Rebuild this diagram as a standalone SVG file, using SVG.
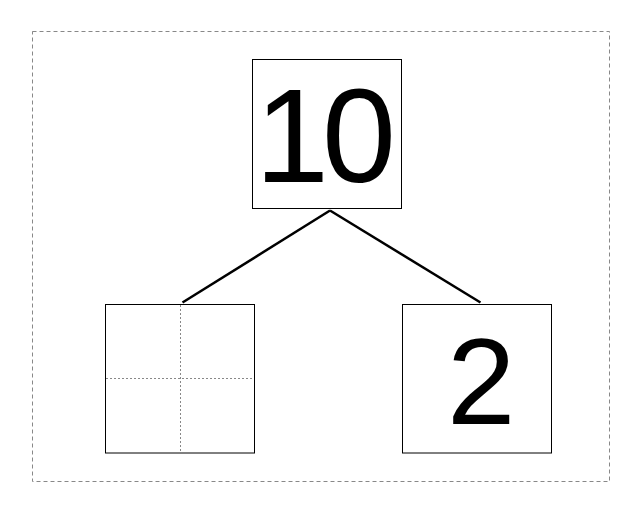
<svg xmlns="http://www.w3.org/2000/svg" width="642" height="513" viewBox="0 0 642 513">
<style>
.frame{fill:none;stroke:#888;stroke-width:1;stroke-dasharray:4,3}
.box{fill:#fff;stroke:#000;stroke-width:1}
.guide{fill:none;stroke:#888;stroke-width:1;stroke-dasharray:2,2}
.edge{fill:none;stroke:#000;stroke-width:2.5}
.num{font-family:"Liberation Sans",Arial,sans-serif;fill:#000}
</style>
<rect width="642" height="513" fill="#fff"/>
<rect class="frame" x="32.5" y="31.5" width="577" height="450"/>
<g id="connectors">
<line class="edge" x1="330" y1="210.5" x2="182.5" y2="302.5"/>
<line class="edge" x1="330" y1="210.5" x2="480.5" y2="302.5"/>
</g>
<g id="node-10">
<rect class="box" x="252.5" y="59.5" width="149" height="149"/>
<text class="num" x="255" y="182" font-size="133" letter-spacing="-7">10</text>
</g>
<g id="node-empty">
<rect class="box" x="105.5" y="304.5" width="149" height="148.5"/>
<line class="guide" x1="180.5" y1="305" x2="180.5" y2="452.5"/>
<line class="guide" x1="106" y1="378.5" x2="254" y2="378.5"/>
</g>
<g id="node-2">
<rect class="box" x="402.5" y="304.5" width="149" height="148.5"/>
<text class="num" x="447" y="424" font-size="123">2</text>
</g>
</svg>
